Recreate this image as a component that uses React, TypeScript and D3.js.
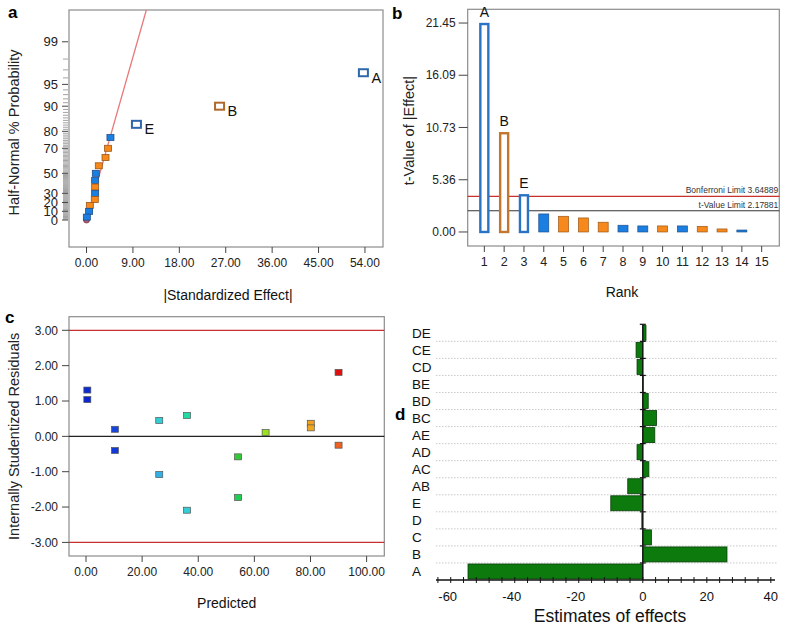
import React from 'react';
import * as d3 from 'd3';

// ---------- Panel a: half-normal plot ----------
const hnEffect = [53.7, 25.8, 9.68, 4.64, 4.18, 3.68, 2.38, 1.8, 1.67, 1.67, 1.67, 1.6, 0.64, 0.5, 0.06];
const hnProb = [96.67, 90, 83.33, 76.67, 70, 63.33, 56.67, 50, 43.33, 36.67, 30, 23.33, 16.67, 10, 3.33];
const hnSign = ['neg', 'pos', 'neg', 'neg', 'pos', 'pos', 'pos', 'neg', 'neg', 'pos', 'neg', 'pos', 'pos', 'neg', 'neg'];
const hnLabel = ['A', 'B', 'E', '', '', '', '', '', '', '', '', '', '', '', ''];
const hnXTicks = [0, 9, 18, 27, 36, 45, 54];
const hnYTicks = [0, 10, 20, 30, 50, 70, 80, 90, 95, 99];
const hnLineEffect = [2.2, 11.6];
const hnLineProb = [43.6, 99.76];

// ---------- Panel b: Pareto chart ----------
const rankValues = [21.45, 10.24, 3.87, 1.85, 1.61, 1.44, 1.0, 0.69, 0.62, 0.62, 0.62, 0.58, 0.31, 0.2];
const rankSign = ['neg', 'pos', 'neg', 'neg', 'pos', 'pos', 'pos', 'neg', 'neg', 'pos', 'neg', 'pos', 'pos', 'neg'];
const rankLabel = ['A', 'B', 'E', '', '', '', '', '', '', '', '', '', '', ''];
const rankYTicks = [0, 5.36, 10.73, 16.09, 21.45];
const rankXTicks = [1, 2, 3, 4, 5, 6, 7, 8, 9, 10, 11, 12, 13, 14, 15];
const bonferroni = 3.64889;
const tLimit = 2.17881;

// ---------- Panel c: residuals vs predicted ----------
const predicted = [0.47, 0.47, 10.3, 10.3, 26.1, 26.1, 36.0, 36.0, 54.2, 54.2, 64.0, 80.1, 80.1, 90.0, 90.0];
const residual = [1.31, 1.04, 0.2, -0.4, 0.45, -1.08, 0.59, -2.09, -0.58, -1.73, 0.11, 0.37, 0.24, 1.81, -0.25];
const resXTicks = [0, 20, 40, 60, 80, 100];
const resYTicks = [-3, -2, -1, 0, 1, 2, 3];

// ---------- Panel d: estimates of effects ----------
const effectNames = ['DE', 'CE', 'CD', 'BE', 'BD', 'BC', 'AE', 'AD', 'AC', 'AB', 'E', 'D', 'C', 'B', 'A'];
const effectValues = [1.0, -2.1, -1.8, 0.15, 1.7, 4.3, 3.75, -1.8, 1.9, -4.7, -10.0, -0.3, 2.7, 26.3, -54.6];
const effXTicks = [-60, -40, -20, 0, 20, 40];

const FONT = 'Liberation Sans, Arial, sans-serif';

function normInv(p: number): number {
  const a = [-3.969683028665376e1, 2.209460984245205e2, -2.759285104469687e2, 1.38357751867269e2, -3.066479806614716e1, 2.506628277459239];
  const b = [-5.447609879822406e1, 1.615858368580409e2, -1.556989798598866e2, 6.680131188771972e1, -1.328068155288572e1];
  const c = [-7.784894002430293e-3, -3.223964580411365e-1, -2.400758277161838, -2.549732539343734, 4.374664141464968, 2.938163982698783];
  const d = [7.784695709041462e-3, 3.224671290700398e-1, 2.445134137142996, 3.754408661907416];
  const pl = 0.02425;
  if (p < pl) {
    const q = Math.sqrt(-2 * Math.log(p));
    return (((((c[0] * q + c[1]) * q + c[2]) * q + c[3]) * q + c[4]) * q + c[5]) / ((((d[0] * q + d[1]) * q + d[2]) * q + d[3]) * q + 1);
  }
  if (p <= 1 - pl) {
    const q = p - 0.5;
    const r = q * q;
    return ((((((a[0] * r + a[1]) * r + a[2]) * r + a[3]) * r + a[4]) * r + a[5]) * q) / (((((b[0] * r + b[1]) * r + b[2]) * r + b[3]) * r + b[4]) * r + 1);
  }
  const q = Math.sqrt(-2 * Math.log(1 - p));
  return -(((((c[0] * q + c[1]) * q + c[2]) * q + c[3]) * q + c[4]) * q + c[5]) / ((((d[0] * q + d[1]) * q + d[2]) * q + d[3]) * q + 1);
}
const hnZ = (pct: number) => normInv(0.5 + pct / 200);

const BLUE_FILL = '#1a7fe0';
const BLUE_STROKE = '#1d4f8c';
const ORANGE_FILL = '#f7881c';
const ORANGE_STROKE = '#9c5818';
const FRAME = '#8c8c8c';

function PanelA() {
  const L = 69, R = 383, T = 10, B = 247;
  const x = d3.scaleLinear().domain([-3.4, 57.5]).range([L, R]);
  const y = d3.scaleLinear().domain([-0.39, 3.035]).range([B, T]);
  const minor = d3.range(1, 100).filter((p) => !hnYTicks.includes(p));
  const lineGen = d3.line<number>().x((_, i) => x(hnLineEffect[i])).y((p) => y(hnZ(p)));
  return (
    <g fontFamily={FONT}>
      <defs>
        <clipPath id="clipA"><rect x={L} y={T} width={R - L} height={B - T} /></clipPath>
      </defs>
      <text x={8} y={18} fontSize={17} fontWeight="bold">a</text>
      <rect x={L} y={T} width={R - L} height={B - T} fill="none" stroke={FRAME} strokeWidth={1.2} />
      {minor.map((p) => (
        <line key={p} x1={L - 6} x2={L - 1} y1={y(hnZ(p))} y2={y(hnZ(p))} stroke="#999" strokeWidth={0.9} />
      ))}
      {hnYTicks.map((p) => (
        <g key={p}>
          <line x1={L - 7} x2={L - 1} y1={y(hnZ(p))} y2={y(hnZ(p))} stroke="#444" strokeWidth={1} />
          <text x={L - 11} y={y(hnZ(p))} dy="0.35em" textAnchor="end" fontSize={13} fill="#222">{p}</text>
        </g>
      ))}
      {hnXTicks.map((t) => (
        <g key={t}>
          <line x1={x(t)} x2={x(t)} y1={B} y2={B + 6} stroke="#444" />
          <text x={x(t)} y={B + 20} textAnchor="middle" fontSize={12} fill="#222">{t.toFixed(2)}</text>
        </g>
      ))}
      <text x={(L + R) / 2 + 2} y={300} textAnchor="middle" fontSize={14} fill="#111">|Standardized Effect|</text>
      <text transform={`translate(19,${(T + B) / 2 + 4}) rotate(-90)`} textAnchor="middle" fontSize={14.5} fill="#222">Half-Normal % Probability</text>
      <path d={lineGen(hnLineProb) || ''} stroke="#e8797a" strokeWidth={1.3} fill="none" clipPath="url(#clipA)" />
      <circle cx={x(0)} cy={y(0)} r={3} fill="#b06070" stroke="#7a3040" strokeWidth={0.8} />
      {hnEffect.map((e, i) => {
        const cx = x(e), cy = y(hnZ(hnProb[i]));
        const pos = hnSign[i] === 'pos';
        const hollow = hnLabel[i] !== '';
        if (hollow) {
          return (
            <g key={i}>
              <rect x={cx - 4.5} y={cy - 3.5} width={9} height={7} fill="#fff" stroke={pos ? '#b0692a' : '#2e68aa'} strokeWidth={2} />
              <text x={cx + 8} y={cy + 10} fontSize={14.5} fill="#111">{hnLabel[i]}</text>
            </g>
          );
        }
        return (
          <rect key={i} x={cx - 3.5} y={cy - 3} width={7} height={6} fill={pos ? ORANGE_FILL : BLUE_FILL} stroke={pos ? ORANGE_STROKE : BLUE_STROKE} strokeWidth={0.8} />
        );
      })}
    </g>
  );
}

function PanelB() {
  const L = 467.7, R = 779.3, T = 9.3, B = 246;
  const x = d3.scaleLinear().domain([0.16, 15.89]).range([L, R]);
  const y = d3.scaleLinear().domain([-1.44, 22.86]).range([B, T]);
  const bw = 10;
  return (
    <g fontFamily={FONT}>
      <text x={392} y={19} fontSize={17} fontWeight="bold">b</text>
      <rect x={L} y={T} width={R - L} height={B - T} fill="none" stroke={FRAME} strokeWidth={1.2} />
      {rankYTicks.map((t) => (
        <g key={t}>
          <line x1={L - 9} x2={L} y1={y(t)} y2={y(t)} stroke="#444" />
          <text x={L - 12} y={y(t)} dy="0.35em" textAnchor="end" fontSize={12} fill="#222">{t.toFixed(2)}</text>
        </g>
      ))}
      {rankXTicks.map((t) => (
        <g key={t}>
          <line x1={x(t)} x2={x(t)} y1={B} y2={B + 6} stroke="#444" />
          <text x={x(t)} y={B + 20} textAnchor="middle" fontSize={12.5} fill="#222">{t}</text>
        </g>
      ))}
      <text x={x(8) - 1} y={297} textAnchor="middle" fontSize={14} fill="#111">Rank</text>
      <text transform={`translate(414,${(T + B) / 2 + 3}) rotate(-90)`} textAnchor="middle" fontSize={14.5} fill="#222">t-Value of |Effect|</text>
      <line x1={L} x2={R} y1={y(bonferroni)} y2={y(bonferroni)} stroke="#c8302c" strokeWidth={1.2} />
      <line x1={L} x2={R} y1={y(tLimit)} y2={y(tLimit)} stroke="#333" strokeWidth={1.2} />
      <text x={R - 1} y={y(bonferroni) - 3} textAnchor="end" fontSize={8.5} fill="#333">{`Bonferroni Limit ${bonferroni}`}</text>
      <text x={R - 1} y={y(tLimit) - 3} textAnchor="end" fontSize={8.5} fill="#333">{`t-Value Limit ${tLimit}`}</text>
      {rankValues.map((v, i) => {
        const cx = x(i + 1);
        const pos = rankSign[i] === 'pos';
        const hollow = rankLabel[i] !== '';
        if (hollow) {
          return (
            <g key={i}>
              <rect x={cx - bw / 2 + 1} y={y(v) + 1} width={bw - 2} height={y(0) - y(v) - 1} fill="#fff" stroke={pos ? '#c2772e' : '#2a73c4'} strokeWidth={2.4} />
              <text x={cx} y={y(v) - 6} textAnchor="middle" fontSize={14} fill="#111">{rankLabel[i]}</text>
            </g>
          );
        }
        return (
          <rect key={i} x={cx - bw / 2} y={y(v)} width={bw} height={y(0) - y(v)} fill={pos ? ORANGE_FILL : BLUE_FILL} stroke={pos ? ORANGE_STROKE : BLUE_STROKE} strokeWidth={0.7} />
        );
      })}
    </g>
  );
}

function PanelC() {
  const L = 69, R = 384.3, T = 316.7, B = 556;
  const x = d3.scaleLinear().domain([-6.06, 106.3]).range([L, R]);
  const y = d3.scaleLinear().domain([-3.385, 3.385]).range([B, T]);
  const color = d3.scaleLinear<string>()
    .domain([0, 12, 24, 38, 50, 64, 80, 89, 97])
    .range(['#0010c8', '#1848e0', '#38c8e8', '#20dca8', '#22c83a', '#98e020', '#f0b020', '#f06020', '#e01010'])
    .clamp(true);
  return (
    <g fontFamily={FONT}>
      <text x={5} y={323} fontSize={17} fontWeight="bold">c</text>
      <rect x={L} y={T} width={R - L} height={B - T} fill="none" stroke={FRAME} strokeWidth={1.2} />
      {resYTicks.map((t) => (
        <g key={t}>
          <line x1={L - 7} x2={L} y1={y(t)} y2={y(t)} stroke="#444" />
          <text x={L - 11} y={y(t)} dy="0.35em" textAnchor="end" fontSize={12} fill="#222">{t.toFixed(2)}</text>
        </g>
      ))}
      {resXTicks.map((t) => (
        <g key={t}>
          <line x1={x(t)} x2={x(t)} y1={B} y2={B + 6} stroke="#444" />
          <text x={x(t)} y={B + 20} textAnchor="middle" fontSize={12} fill="#222">{t.toFixed(2)}</text>
        </g>
      ))}
      <text x={(L + R) / 2} y={608} textAnchor="middle" fontSize={14} fill="#111">Predicted</text>
      <text transform={`translate(19,${(T + B) / 2}) rotate(-90)`} textAnchor="middle" fontSize={14.5} fill="#222">Internally Studentized Residuals</text>
      <line x1={L} x2={R} y1={y(3)} y2={y(3)} stroke="#c83030" strokeWidth={1.2} />
      <line x1={L} x2={R} y1={y(-3)} y2={y(-3)} stroke="#c83030" strokeWidth={1.2} />
      <line x1={L} x2={R} y1={y(0)} y2={y(0)} stroke="#222" strokeWidth={1.2} />
      {predicted.map((p, i) => (
        <rect key={i} x={x(p) - 3.5} y={y(residual[i]) - 3} width={7} height={6}
          fill={color(p + residual[i] * 4)} stroke="#555" strokeWidth={0.7} />
      ))}
    </g>
  );
}

function PanelD() {
  const x = d3.scaleLinear().domain([-64.6, 41.3]).range([436, 775]);
  const y = d3.scaleBand<string>().domain(effectNames).range([324.3, 580]).paddingInner(0.12).paddingOuter(0.06);
  const minorTicks = d3.range(-64, 42, 4);
  const bounds = d3.range(0, effectNames.length + 1).map((i) => 324.3 + i * y.step());
  return (
    <g fontFamily={FONT}>
      <text x={395} y={420} fontSize={17} fontWeight="bold">d</text>
      {bounds.slice(1, -1).map((b, i) => (
        <line key={i} x1={436} x2={778} y1={b} y2={b} stroke="#bbb" strokeWidth={0.8} strokeDasharray="1.5,1.5" />
      ))}
      {effectValues.map((v, i) => (
        <rect key={i} x={x(Math.min(0, v))} y={y(effectNames[i])!} width={Math.abs(x(v) - x(0))} height={y.bandwidth()}
          fill="#0c7a0c" stroke="#0a3d0a" strokeWidth={0.8} />
      ))}
      {effectNames.map((n) => (
        <text key={n} x={412} y={y(n)! + y.bandwidth() / 2} dy="0.35em" textAnchor="start" fontSize={13.5} fill="#111">{n}</text>
      ))}
      <line x1={x(0)} x2={x(0)} y1={324.3} y2={580} stroke="#111" strokeWidth={1.3} />
      {bounds.slice(0, -1).map((b, i) => (
        <line key={i} x1={x(0) - 3} x2={x(0) + 3} y1={b} y2={b} stroke="#111" strokeWidth={1.2} />
      ))}
      <line x1={436} x2={775} y1={580} y2={580} stroke="#111" strokeWidth={1.3} />
      {minorTicks.map((t) => (
        <line key={t} x1={x(t)} x2={x(t)} y1={577} y2={583} stroke="#111" strokeWidth={1} />
      ))}
      {effXTicks.map((t) => (
        <text key={t} x={x(t) - (t < 0 ? 3 : 0)} y={601} textAnchor="middle" fontSize={13} fill="#111">{t}</text>
      ))}
      <text x={610} y={622} textAnchor="middle" fontSize={17.5} fill="#111">Estimates of effects</text>
    </g>
  );
}

export default function App() {
  return (
    <svg width={786} height={625} style={{ position: 'absolute', left: 0, top: 0, background: '#fff' }}>
      <rect x={0} y={0} width={786} height={625} fill="#fff" />
      <PanelA />
      <PanelB />
      <PanelC />
      <PanelD />
    </svg>
  );
}
